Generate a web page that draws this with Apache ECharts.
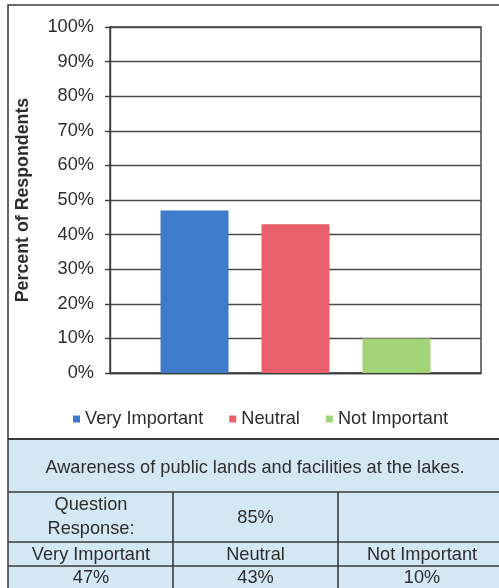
<!DOCTYPE html>
<html>
<head>
<meta charset="utf-8">
<script src="https://cdn.jsdelivr.net/npm/echarts@6/dist/echarts.min.js"></script>
<style>
  html, body { margin: 0; padding: 0; background: #ffffff; }
  #chart { width: 499px; height: 588px; }
</style>
</head>
<body>
<div id="chart"></div>
<script>
// Survey responses for one question
const categories = [''];
const seriesNames = ['Very Important', 'Neutral', 'Not Important'];
const seriesValues = [47, 43, 10];
const seriesColors = ['#3f7bcb', '#e7606a', '#a3d477'];
const questionTitle = 'Awareness of public lands and facilities at the lakes.';
const responseLabel = ['Question', 'Response:'];
const responseRate = 85;
const yAxisTitle = 'Percent of Respondents';

const FONT = '"Liberation Sans", Arial, Helvetica, sans-serif';
const TXT = '#2d2d2d';
const LINE = '#3a3a3a';
const FS = 18.2;

const chart = echarts.init(document.getElementById('chart'), null, { renderer: 'canvas' });

const series = seriesNames.map((name, i) => ({
  name: name,
  type: 'bar',
  data: [seriesValues[i]],
  barWidth: 68,
  barGap: '48.5%',
  itemStyle: { color: seriesColors[i] },
  animation: false
}));

// Summary table under the chart
const pct = v => v + '%';
const cellFont = FS + 'px ' + FONT;
function txt(str, x, y) {
  return {
    type: 'text', silent: true,
    style: { text: str, x: x, y: y, fill: TXT, font: cellFont, align: 'center', verticalAlign: 'middle' }
  };
}
function hline(y, x1, x2, w) {
  return { type: 'line', silent: true, shape: { x1: x1, y1: y, x2: x2, y2: y }, style: { stroke: LINE, lineWidth: w } };
}
function vline(x, y1, y2, w) {
  return { type: 'line', silent: true, shape: { x1: x, y1: y1, x2: x, y2: y2 }, style: { stroke: LINE, lineWidth: w } };
}

const colX = [91, 255.5, 422];
const tableGraphics = [
  { type: 'rect', silent: true, shape: { x: 8, y: 439, width: 520, height: 160 }, style: { fill: '#d4e8f4' } },
  { type: 'rect', silent: true, shape: { x: 8, y: 5, width: 520, height: 620 }, style: { fill: null, stroke: LINE, lineWidth: 1.5 } },
  hline(439, 8, 520, 2.2),
  hline(492, 8, 520, 1.6),
  hline(542, 8, 520, 1.6),
  hline(566, 8, 520, 1.6),
  vline(173, 492, 600, 1.6),
  vline(338, 492, 600, 1.6),
  txt(questionTitle, 255, 468),
  txt(responseLabel[0], colX[0], 505),
  txt(responseLabel[1], colX[0], 529),
  txt(pct(responseRate), colX[1], 518)
];
seriesNames.forEach((n, i) => {
  tableGraphics.push(txt(n, colX[i], 555));
  tableGraphics.push(txt(pct(seriesValues[i]), colX[i], 578));
});

chart.setOption({
  animation: false,
  backgroundColor: '#ffffff',
  textStyle: { fontFamily: FONT },
  grid: {
    left: 110, top: 27, right: 18, bottom: 215,
    outerBoundsMode: 'none',
    containLabel: false,
    show: true, borderColor: LINE, borderWidth: 1.4, backgroundColor: 'transparent'
  },
  legend: {
    data: seriesNames,
    left: 68, top: 405,
    icon: 'rect', itemWidth: 7, itemHeight: 7, itemGap: 26,
    textStyle: { fontSize: FS, color: TXT, fontFamily: FONT, padding: [0, 0, 0, 0] }
  },
  xAxis: {
    type: 'category',
    data: categories,
    axisLabel: { show: false },
    axisTick: { show: false },
    axisLine: { show: true, lineStyle: { color: LINE, width: 1.4 } }
  },
  yAxis: {
    type: 'value',
    min: 0, max: 100, interval: 10,
    name: yAxisTitle,
    nameLocation: 'middle',
    nameRotate: 90,
    nameGap: 78,
    nameTextStyle: { fontSize: 17.8, fontWeight: 'bold', color: TXT, fontFamily: FONT },
    axisLine: { show: true, lineStyle: { color: LINE, width: 1.4 } },
    axisTick: { show: true, length: 5, lineStyle: { color: LINE, width: 1.4 } },
    axisLabel: { formatter: '{value}%', fontSize: FS, color: TXT, margin: 16, fontFamily: FONT },
    splitLine: { show: true, lineStyle: { color: '#4a4a4a', width: 1.4 } }
  },
  series: series,
  graphic: tableGraphics
});
</script>
</body>
</html>
